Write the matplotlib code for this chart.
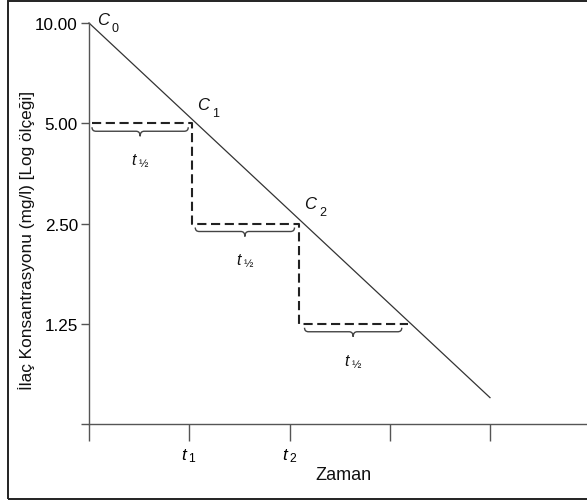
import numpy as np
import matplotlib
matplotlib.use("Agg")
import matplotlib.pyplot as plt
from matplotlib.path import Path
from matplotlib.patches import PathPatch, Rectangle
from matplotlib.ticker import NullLocator, FixedLocator, FixedFormatter

plt.rcParams['font.family'] = ['Liberation Sans', 'DejaVu Sans']
plt.rcParams['mathtext.fontset'] = 'custom'
plt.rcParams['mathtext.rm'] = 'Liberation Sans'
plt.rcParams['mathtext.it'] = 'Liberation Sans:italic'

# ---- data ----
line_x = [0.0, 4.0]
line_y = [10.0, 0.75]
step_x = [0.03, 1.03, 1.03, 2.09, 2.09, 3.18]
step_y = [5.0, 5.0, 2.5, 2.5, 1.25, 1.25]
brace_x0 = [0.03, 1.06, 2.15]
brace_x1 = [0.99, 2.05, 3.12]
brace_y = [5.0, 2.5, 1.25]
y_ticks = [0.625, 1.25, 2.5, 5.0, 10.0]
y_labels = ['', '1.25', '2.50', '5.00', '10.00']
x_ticks = [0, 1, 2, 3, 4]
x_labels = ['', r'$t_{\;1}$', r'$t_{\;2}$', '', '']
c_points_x = [0.0, 1.03, 2.09]
c_points_y = [10.0, 5.0, 2.5]
c_letters = ['C', 'C', 'C']
c_subs = ['0', '1', '2']
c_offsets = [(8, -1), (5, 14), (6, 16)]

W, H = 587, 502
fig = plt.figure(figsize=(W / 100, H / 100), dpi=100)
L, R, T, B = 89, 587, 24, 425
ax = fig.add_axes([L / W, (H - B) / H, (R - L) / W, (B - T) / H])
ax.set_yscale('log')
ax.set_ylim(0.625, 10)
ax.set_xlim(0, (R - L) / 100.25)

axcol = '#555555'
for s in ['top', 'right']:
    ax.spines[s].set_visible(False)
for s in ['left', 'bottom']:
    ax.spines[s].set_color(axcol)
    ax.spines[s].set_linewidth(1.0)

ax.yaxis.set_major_locator(FixedLocator(y_ticks))
ax.yaxis.set_major_formatter(FixedFormatter(y_labels))
ax.yaxis.set_minor_locator(NullLocator())
ax.xaxis.set_major_locator(FixedLocator(x_ticks))
ax.xaxis.set_major_formatter(FixedFormatter(x_labels))
ax.tick_params(axis='y', direction='out', length=6, width=1.0, color=axcol,
               labelsize=12.3, pad=2)
ax.tick_params(axis='x', direction='out', length=12, width=1.0, color=axcol,
               labelsize=12.5, pad=4)
ax.xaxis.get_major_ticks()[3].tick1line.set_color('#bbbbbb')

ax.plot(line_x, line_y, color='#333333', lw=0.9, clip_on=False)
ax.plot(step_x, step_y, color='#222222', lw=1.5, ls=(0, (4.4, 2.2)), clip_on=False)

for px, py, let, sub, off in zip(c_points_x, c_points_y, c_letters, c_subs, c_offsets):
    ax.annotate(let, xy=(px, py), xytext=off, textcoords='offset pixels',
                fontsize=12, fontstyle='italic', ha='left', va='baseline',
                color='#111111')
    ax.annotate(sub, xy=(px, py), xytext=(off[0] + 15, off[1] - 7),
                textcoords='offset pixels', fontsize=9, ha='left',
                va='baseline', color='#111111')

fig.canvas.draw()

def brace(x0, x1, y, ax):
    p0 = ax.transData.transform((x0, y))
    p1 = ax.transData.transform((x1, y))
    top = p0[1] - 4
    r = 4.0
    tip = 9.0
    xc = 0.5 * (p0[0] + p1[0])
    a, b = p0[0], p1[0]
    verts = [
        (a, top), (a, top - r), (a + r, top - r),
        (xc - r, top - r), (xc, top - r), (xc, top - tip),
        (xc, top - r), (xc + r, top - r),
        (b - r, top - r), (b, top - r), (b, top),
    ]
    codes = [Path.MOVETO, Path.CURVE3, Path.CURVE3,
             Path.LINETO, Path.CURVE3, Path.CURVE3,
             Path.CURVE3, Path.CURVE3,
             Path.LINETO, Path.CURVE3, Path.CURVE3]
    patch = PathPatch(Path(verts, codes), fill=False, edgecolor='#444444',
                      lw=1.0, transform=None)
    fig.add_artist(patch)
    ax.annotate(r'$t_{\;\mathrm{½}}$', xy=(0.5 * (x0 + x1), y), xytext=(0, -28),
                textcoords='offset pixels', ha='center', va='top',
                fontsize=11.5, color='#111111')

for x0, x1, y in zip(brace_x0, brace_x1, brace_y):
    brace(x0, x1, y, ax)

fig.text(27 / W, 1 - 240 / H, 'İlaç Konsantrasyonu (mg/l) [Log ölçeği]',
         rotation=90, ha='center', va='center', fontsize=12.4, color='#111111')
fig.text(343 / W, 1 - 476 / H, 'Zaman', ha='center', va='center',
         fontsize=13, color='#111111')

fig.add_artist(Rectangle((8, 2), 600, 498, fill=False, edgecolor='#222222',
                         lw=1.4, transform=None))

fig.savefig('out.png', dpi=100)
